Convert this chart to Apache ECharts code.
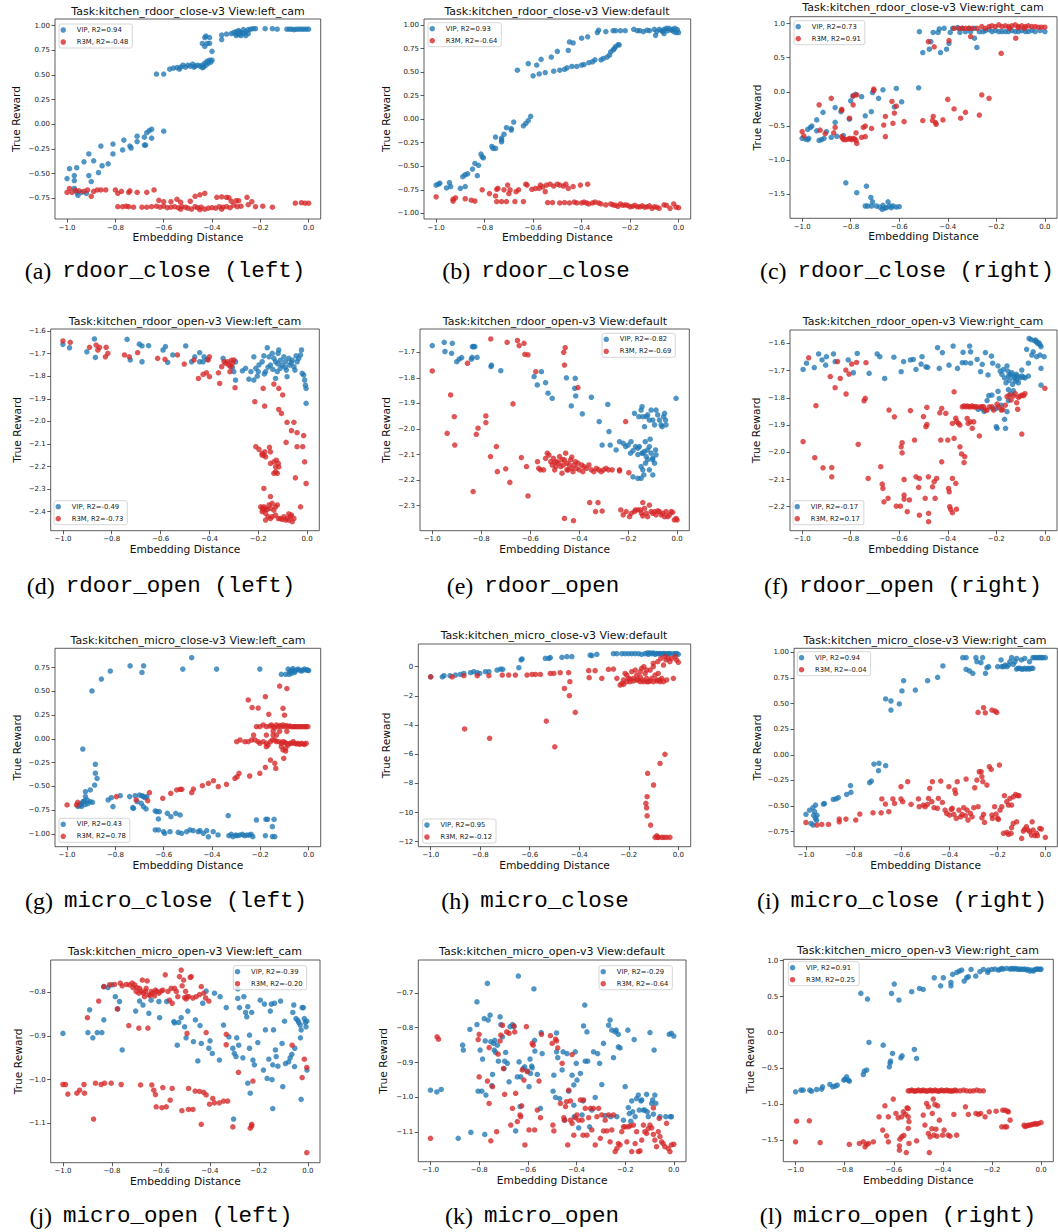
<!DOCTYPE html>
<html><head><meta charset="utf-8">
<script src="https://cdn.jsdelivr.net/npm/echarts@6/dist/echarts.min.js"></script>
<style>html,body{margin:0;padding:0;background:#fff}#c{width:1058px;height:1232px}</style>
</head><body><div id="c"></div>
<script>
// ---------------- DATA ----------------
const titles = [
 "Task:kitchen_rdoor_close-v3 View:left_cam","Task:kitchen_rdoor_close-v3 View:default","Task:kitchen_rdoor_close-v3 View:right_cam",
 "Task:kitchen_rdoor_open-v3 View:left_cam","Task:kitchen_rdoor_open-v3 View:default","Task:kitchen_rdoor_open-v3 View:right_cam",
 "Task:kitchen_micro_close-v3 View:left_cam","Task:kitchen_micro_close-v3 View:default","Task:kitchen_micro_close-v3 View:right_cam",
 "Task:kitchen_micro_open-v3 View:left_cam","Task:kitchen_micro_open-v3 View:default","Task:kitchen_micro_open-v3 View:right_cam"];
const vipLabels = ["VIP, R2=0.94","VIP, R2=0.93","VIP, R2=0.73","VIP, R2=-0.49","VIP, R2=-0.82","VIP, R2=-0.17","VIP, R2=0.43","VIP, R2=0.95","VIP, R2=0.94","VIP, R2=-0.39","VIP, R2=-0.29","VIP, R2=0.91"];
const r3mLabels = ["R3M, R2=-0.48","R3M, R2=-0.64","R3M, R2=0.91","R3M, R2=-0.73","R3M, R2=-0.69","R3M, R2=0.17","R3M, R2=0.78","R3M, R2=-0.12","R3M, R2=-0.04","R3M, R2=-0.20","R3M, R2=-0.64","R3M, R2=0.25"];
const captionTags = ["(a)","(b)","(c)","(d)","(e)","(f)","(g)","(h)","(i)","(j)","(k)","(l)"];
const captionNames = ["rdoor_close (left)","rdoor_close","rdoor_close (right)","rdoor_open (left)","rdoor_open","rdoor_open (right)","micro_close (left)","micro_close","micro_close (right)","micro_open (left)","micro_open","micro_open (right)"];
const xAxisTitle = "Embedding Distance";
const yAxisTitle = "True Reward";
const xTicks = [-1.0,-0.8,-0.6,-0.4,-0.2,0.0];
const yTicks = [
 [-0.75,-0.5,-0.25,0,0.25,0.5,0.75,1.0],
 [-1.0,-0.75,-0.5,-0.25,0,0.25,0.5,0.75,1.0],
 [-1.5,-1.0,-0.5,0,0.5,1.0],
 [-2.4,-2.3,-2.2,-2.1,-2.0,-1.9,-1.8,-1.7,-1.6],
 [-2.3,-2.2,-2.1,-2.0,-1.9,-1.8,-1.7],
 [-2.2,-2.1,-2.0,-1.9,-1.8,-1.7,-1.6],
 [-1.0,-0.75,-0.5,-0.25,0,0.25,0.5,0.75],
 [-12,-10,-8,-6,-4,-2,0],
 [-0.75,-0.5,-0.25,0,0.25,0.5,0.75,1.0],
 [-1.1,-1.0,-0.9,-0.8],
 [-1.1,-1.0,-0.9,-0.8,-0.7],
 [-1.5,-1.0,-0.5,0,0.5,1.0]];

const a_vip = [[-1.0,-0.55],[-0.99,-0.45],[-0.97,-0.52],[-0.97,-0.57],[-0.96,-0.44],[-0.97,-0.65],[-0.96,-0.69],[-0.955,-0.72],[-0.94,-0.69],[-0.92,-0.70],[-0.93,-0.38],[-0.91,-0.30],[-0.91,-0.52],[-0.90,-0.58],[-0.89,-0.37],[-0.87,-0.49],[-0.86,-0.22],[-0.855,-0.42],[-0.83,-0.40],[-0.81,-0.20],[-0.81,-0.30],[-0.765,-0.16],[-0.77,-0.26],[-0.74,-0.22],[-0.735,-0.24],[-0.71,-0.175],[-0.71,-0.12],[-0.68,-0.21],[-0.68,-0.13],[-0.675,-0.21],[-0.67,-0.085],[-0.66,-0.065],[-0.65,-0.14],[-0.65,-0.05],[-0.60,-0.07],
[-0.63,0.51],[-0.60,0.51],[-0.575,0.56],[-0.56,0.57],[-0.545,0.575],[-0.535,0.56],[-0.53,0.58],[-0.52,0.60],[-0.51,0.58],[-0.50,0.60],[-0.49,0.59],[-0.48,0.61],[-0.475,0.58],[-0.47,0.59],[-0.46,0.60],[-0.45,0.59],[-0.44,0.60],[-0.43,0.62],[-0.425,0.60],[-0.42,0.64],[-0.415,0.62],[-0.41,0.65],[-0.40,0.65],[-0.405,0.63],[-0.435,0.58],[-0.44,0.575],
[-0.44,0.82],[-0.43,0.88],[-0.425,0.895],[-0.42,0.82],[-0.41,0.82],[-0.41,0.88],[-0.40,0.74],[-0.43,0.79],
[-0.36,0.86],[-0.36,0.905],[-0.34,0.915],[-0.32,0.92],[-0.31,0.93],[-0.30,0.94],[-0.29,0.95],[-0.28,0.93],[-0.27,0.96],[-0.26,0.94],[-0.25,0.96],[-0.24,0.965],[-0.23,0.97],[-0.22,0.97],[-0.30,0.90],[-0.29,0.91],[-0.28,0.90],[-0.27,0.92],[-0.26,0.90],[-0.25,0.92],[-0.30,0.92],[-0.285,0.935],
[-0.18,0.97],[-0.15,0.97],[-0.13,0.965],[-0.09,0.965],[-0.08,0.965],[-0.07,0.965],[-0.05,0.965],[-0.04,0.965],[-0.03,0.965],[-0.02,0.965],[-0.01,0.965],[0.0,0.965],[-0.06,0.96]];
const a_r3m = [[-1.0,-0.69],[-0.99,-0.65],[-0.98,-0.69],[-0.965,-0.67],[-0.95,-0.675],[-0.93,-0.68],[-0.915,-0.665],[-0.90,-0.73],[-0.89,-0.68],[-0.875,-0.665],[-0.86,-0.665],[-0.84,-0.665],[-0.80,-0.665],[-0.79,-0.70],[-0.775,-0.68],[-0.745,-0.69],[-0.74,-0.675],[-0.71,-0.69],[-0.67,-0.69],[-0.64,-0.665],
[-0.79,-0.835],[-0.77,-0.835],[-0.755,-0.83],[-0.745,-0.835],[-0.725,-0.84],[-0.69,-0.84],[-0.67,-0.84],[-0.65,-0.835],[-0.63,-0.83],[-0.615,-0.84],[-0.60,-0.83],[-0.585,-0.845],[-0.57,-0.84],[-0.555,-0.835],[-0.54,-0.845],[-0.525,-0.835],[-0.51,-0.84],[-0.50,-0.85],[-0.485,-0.86],[-0.47,-0.835],[-0.46,-0.845],[-0.445,-0.84],[-0.43,-0.86],[-0.415,-0.85],[-0.40,-0.845],[-0.385,-0.85],[-0.37,-0.835],[-0.355,-0.84],[-0.34,-0.835],[-0.325,-0.845],[-0.31,-0.82],[-0.295,-0.835],[-0.28,-0.83],[-0.25,-0.815],[-0.22,-0.835],[-0.19,-0.83],[-0.15,-0.84],[-0.53,-0.86],[-0.45,-0.865],[-0.36,-0.86],
[-0.57,-0.785],[-0.545,-0.76],[-0.53,-0.79],[-0.62,-0.77],[-0.60,-0.785],[-0.47,-0.73],[-0.45,-0.715],[-0.43,-0.70],[-0.38,-0.74],[-0.36,-0.735],[-0.34,-0.74],[-0.33,-0.745],[-0.32,-0.78],[-0.30,-0.775],[-0.29,-0.775],[-0.255,-0.74],[-0.235,-0.785],[-0.49,-0.78],
[-0.055,-0.80],[-0.03,-0.795],[-0.015,-0.80],[0.0,-0.80]];

const b_vip = [[-1.0,-0.70],[-0.99,-0.69],[-0.985,-0.68],[-0.957,-0.73],[-0.945,-0.675],[-0.94,-0.715],[-0.90,-0.735],[-0.88,-0.715],
[-0.89,-0.61],[-0.88,-0.59],[-0.87,-0.58],[-0.85,-0.53],[-0.84,-0.47],[-0.83,-0.60],[-0.825,-0.49],[-0.815,-0.37],[-0.81,-0.40],[-0.805,-0.41],[-0.77,-0.29],[-0.765,-0.31],[-0.755,-0.31],[-0.755,-0.19],[-0.73,-0.24],[-0.73,-0.20],[-0.73,-0.22],[-0.72,-0.16],[-0.71,-0.09],[-0.69,-0.115],[-0.69,-0.10],[-0.68,-0.03],[-0.64,-0.07],[-0.63,-0.045],[-0.62,-0.015],[-0.61,0.03],
[-0.665,0.52],[-0.62,0.59],[-0.60,0.46],[-0.585,0.575],[-0.575,0.48],[-0.567,0.635],[-0.55,0.495],[-0.525,0.66],[-0.515,0.51],[-0.50,0.72],[-0.49,0.52],[-0.47,0.53],[-0.455,0.73],[-0.45,0.82],[-0.46,0.545],[-0.44,0.56],[-0.435,0.81],[-0.42,0.56],[-0.40,0.575],[-0.40,0.86],[-0.39,0.58],[-0.375,0.875],[-0.37,0.60],[-0.355,0.61],[-0.345,0.63],[-0.335,0.92],[-0.33,0.945],[-0.32,0.63],[-0.31,0.645],[-0.30,0.93],[-0.295,0.66],[-0.285,0.68],[-0.28,0.715],[-0.27,0.735],[-0.27,0.94],[-0.265,0.75],[-0.26,0.77],[-0.25,0.79],[-0.245,0.79],[-0.26,0.94],[-0.24,0.94],[-0.22,0.94],[-0.185,0.955],[-0.17,0.94],[-0.16,0.94],[-0.145,0.93],[-0.13,0.945],[-0.12,0.94],[-0.10,0.955],[-0.095,0.89],[-0.09,0.93],[-0.08,0.955],[-0.07,0.94],[-0.065,0.93],[-0.06,0.955],[-0.06,0.91],[-0.05,0.965],[-0.045,0.94],[-0.04,0.965],[-0.03,0.945],[-0.025,0.955],[-0.02,0.93],[-0.015,0.965],[-0.01,0.92],[-0.005,0.95],[0.0,0.92]];
const b_r3m = [[-1.0,-0.825],[-0.93,-0.85],[-0.93,-0.87],[-0.92,-0.835],[-0.88,-0.845],[-0.855,-0.86],[-0.84,-0.87],[-0.81,-0.75],[-0.78,-0.79],[-0.755,-0.815],[-0.75,-0.745],[-0.745,-0.735],[-0.75,-0.875],[-0.73,-0.875],[-0.72,-0.75],[-0.71,-0.875],[-0.705,-0.70],[-0.70,-0.79],[-0.695,-0.75],[-0.675,-0.875],[-0.67,-0.77],[-0.66,-0.75],[-0.64,-0.875],[-0.63,-0.69],[-0.625,-0.70],[-0.605,-0.745],[-0.59,-0.735],[-0.575,-0.735],[-0.57,-0.70],[-0.56,-0.72],[-0.55,-0.77],[-0.545,-0.70],[-0.53,-0.69],[-0.515,-0.71],[-0.50,-0.69],[-0.49,-0.70],[-0.475,-0.71],[-0.465,-0.69],[-0.455,-0.735],[-0.435,-0.715],[-0.405,-0.70],[-0.375,-0.69],
[-0.54,-0.885],[-0.52,-0.885],[-0.49,-0.89],[-0.47,-0.885],[-0.45,-0.89],[-0.43,-0.88],[-0.42,-0.89],[-0.40,-0.89],[-0.39,-0.88],[-0.38,-0.89],[-0.37,-0.90],[-0.355,-0.89],[-0.345,-0.88],[-0.33,-0.89],[-0.32,-0.90],[-0.30,-0.91],[-0.28,-0.90],[-0.27,-0.91],[-0.26,-0.915],[-0.24,-0.90],[-0.23,-0.915],[-0.22,-0.91],[-0.21,-0.915],[-0.20,-0.93],[-0.18,-0.915],[-0.17,-0.93],[-0.16,-0.93],[-0.14,-0.935],[-0.13,-0.93],[-0.11,-0.947],[-0.10,-0.93],[-0.09,-0.935],[-0.08,-0.947],[-0.06,-0.91],[-0.05,-0.915],[-0.035,-0.947],[-0.02,-0.90],[-0.01,-0.935],[0.0,-0.94],[-0.25,-0.925],[-0.15,-0.92],[-0.12,-0.92],[-0.19,-0.925]];

const c_vip = [[-1.0,-0.68],[-0.986,-0.69],[-0.977,-0.70],[-0.973,-0.68],[-0.977,-0.55],[-0.966,-0.52],[-0.96,-0.50],[-0.94,-0.41],[-0.94,-0.57],[-0.93,-0.71],[-0.92,-0.70],[-0.91,-0.68],[-0.914,-0.30],[-0.90,-0.58],[-0.88,-0.665],[-0.864,-0.23],[-0.864,-0.445],[-0.857,-0.65],[-0.84,-0.29],[-0.83,-0.64],[-0.805,-0.40],[-0.80,-0.13],[-0.79,-0.06],[-0.78,-0.035],[-0.755,-0.07],[-0.74,-0.35],[-0.715,-0.29],[-0.71,-0.01],[-0.685,-0.095],[-0.667,0.03],[-0.62,-0.22],[-0.612,0.05],[-0.59,-0.145],[-0.52,0.06],
[-0.82,-1.33],[-0.775,-1.475],[-0.735,-1.38],[-0.74,-1.67],[-0.73,-1.67],[-0.717,-1.545],[-0.71,-1.61],[-0.714,-1.67],[-0.694,-1.67],[-0.68,-1.685],[-0.667,-1.66],[-0.653,-1.695],[-0.646,-1.61],[-0.64,-1.67],[-0.633,-1.695],[-0.626,-1.67],[-0.612,-1.685],[-0.60,-1.68],[-0.66,-1.70],[-0.67,-1.72],
[-0.517,0.88],[-0.503,0.575],[-0.476,0.625],[-0.47,0.735],[-0.46,0.87],[-0.44,0.87],[-0.435,0.92],[-0.43,0.575],[-0.415,0.93],[-0.405,0.625],[-0.395,0.71],[-0.39,0.87],[-0.38,0.93],[-0.36,0.94],[-0.35,0.87],[-0.34,0.93],[-0.327,0.88],[-0.313,0.93],[-0.306,0.88],[-0.29,0.93],[-0.29,0.785],[-0.28,0.65],[-0.27,0.88],[-0.255,0.88],[-0.245,0.897],[-0.23,0.91],[-0.218,0.883],[-0.204,0.897],[-0.19,0.883],[-0.177,0.883],[-0.163,0.883],[-0.15,0.883],[-0.136,0.897],[-0.122,0.883],[-0.109,0.883],[-0.095,0.897],[-0.08,0.883],[-0.068,0.883],[-0.054,0.90],[-0.04,0.883],[-0.02,0.897],[0.0,0.883]];
const c_r3m = [[-1.0,-0.58],[-0.993,-0.645],[-0.93,-0.19],[-0.926,-0.56],[-0.905,-0.61],[-0.88,-0.095],[-0.864,-0.52],[-0.87,-0.60],[-0.837,-0.255],[-0.837,-0.27],[-0.837,-0.655],[-0.833,-0.68],[-0.828,-0.70],[-0.82,-0.70],[-0.81,-0.69],[-0.803,-0.68],[-0.797,-0.70],[-0.79,-0.68],[-0.784,-0.69],[-0.778,-0.71],[-0.805,-0.385],[-0.79,-0.19],[-0.79,-0.06],[-0.775,-0.045],[-0.778,-0.60],[-0.775,-0.755],[-0.755,-0.665],[-0.748,-0.52],[-0.74,-0.50],[-0.74,-0.655],[-0.714,-0.535],[-0.705,0.04],[-0.705,0.02],[-0.664,-0.485],[-0.657,-0.655],[-0.657,-0.36],[-0.63,-0.14],[-0.626,-0.46],[-0.62,-0.31],[-0.612,-0.21],[-0.58,-0.435],[-0.503,-0.42],[-0.463,-0.42],[-0.46,-0.36],[-0.45,-0.45],[-0.448,-0.475],[-0.42,-0.41],[-0.40,-0.11],[-0.374,-0.25],[-0.347,-0.385],[-0.327,-0.30],[-0.27,-0.34],[-0.26,-0.045],[-0.23,-0.095],
[-0.48,0.735],[-0.456,0.66],[-0.395,0.75],[-0.374,0.93],[-0.354,0.93],[-0.34,0.93],[-0.327,0.93],[-0.313,0.93],[-0.30,0.93],[-0.279,0.93],[-0.26,0.956],[-0.245,0.93],[-0.23,0.956],[-0.218,0.966],[-0.204,0.956],[-0.19,0.98],[-0.177,0.956],[-0.163,0.966],[-0.15,0.956],[-0.136,0.966],[-0.122,0.98],[-0.109,0.956],[-0.095,0.966],[-0.08,0.956],[-0.068,0.966],[-0.054,0.956],[-0.04,0.956],[-0.027,0.946],[-0.014,0.946],[0.0,0.946],[-0.306,0.81],[-0.18,0.565],[-0.12,0.785],[-0.11,0.94],[-0.145,0.93],[-0.085,0.93]];

const d_vip = [[-1.0,-1.659],[-0.973,-1.674],[-0.902,-1.692],[-0.867,-1.717],[-0.871,-1.635],[-0.737,-1.637],[-0.724,-1.728],[-0.687,-1.658],[-0.676,-1.666],[-0.676,-1.736],[-0.649,-1.665],[-0.59,-1.684],[-0.58,-1.669],[-0.571,-1.739],[-0.55,-1.706],[-0.497,-1.666],[-0.473,-1.736],[-0.46,-1.714],[-0.44,-1.736],[-0.44,-1.696],[-0.426,-1.736],[-0.422,-1.714],[-0.41,-1.726],[-0.344,-1.721],[-0.306,-1.761],[-0.30,-1.78],[-0.293,-1.817],[-0.293,-1.736],[-0.265,-1.776],[-0.252,-1.765],[-0.238,-1.813],[-0.23,-1.78],[-0.218,-1.817],[-0.218,-1.714],[-0.21,-1.765],[-0.204,-1.80],[-0.197,-1.75],[-0.184,-1.736],[-0.177,-1.71],[-0.163,-1.674],[-0.17,-1.78],[-0.156,-1.714],[-0.15,-1.751],[-0.143,-1.699],[-0.136,-1.721],[-0.129,-1.736],[-0.129,-1.81],[-0.122,-1.78],[-0.119,-1.699],[-0.116,-1.684],[-0.109,-1.729],[-0.102,-1.751],[-0.095,-1.714],[-0.088,-1.736],[-0.085,-1.773],[-0.082,-1.802],[-0.075,-1.721],[-0.071,-1.751],[-0.061,-1.729],[-0.054,-1.758],[-0.05,-1.773],[-0.041,-1.736],[-0.034,-1.721],[-0.027,-1.706],[-0.023,-1.684],[-0.02,-1.787],[-0.014,-1.795],[-0.01,-1.817],[-0.007,-1.84],[-0.004,-1.854],[-0.004,-1.92],[-0.16,-1.76],[-0.14,-1.77],[-0.11,-1.765],[-0.09,-1.76],[-0.065,-1.74],[-0.045,-1.71],[-0.12,-1.745],[-0.175,-1.79],[-0.2,-1.78]];
const d_r3m = [[-1.0,-1.644],[-0.97,-1.65],[-0.891,-1.672],[-0.864,-1.662],[-0.857,-1.684],[-0.85,-1.672],[-0.823,-1.672],[-0.826,-1.714],[-0.816,-1.699],[-0.748,-1.706],[-0.728,-1.714],[-0.694,-1.696],[-0.612,-1.721],[-0.582,-1.725],[-0.531,-1.706],[-0.503,-1.746],[-0.463,-1.728],[-0.445,-1.81],[-0.426,-1.792],[-0.412,-1.785],[-0.40,-1.714],[-0.40,-1.802],[-0.405,-1.728],[-0.363,-1.785],[-0.358,-1.832],[-0.35,-1.758],[-0.34,-1.736],[-0.333,-1.743],[-0.326,-1.736],[-0.32,-1.751],[-0.316,-1.78],[-0.313,-1.758],[-0.306,-1.743],[-0.30,-1.728],[-0.295,-1.851],[-0.31,-1.73],
[-0.18,-1.854],[-0.214,-1.913],[-0.174,-1.932],[-0.136,-1.835],[-0.116,-1.854],[-0.116,-1.947],[-0.105,-1.965],[-0.10,-1.883],[-0.082,-2.004],[-0.054,-2.004],[-0.064,-2.041],[-0.041,-2.05],[-0.014,-2.063],[-0.086,-2.093],[-0.041,-2.112],[-0.018,-2.112],[-0.01,-2.179],[-0.048,-2.25],[-0.004,-2.275],[-0.027,-2.378],
[-0.21,-2.112],[-0.197,-2.124],[-0.184,-2.142],[-0.177,-2.149],[-0.17,-2.157],[-0.173,-2.135],[-0.154,-2.115],[-0.15,-2.135],[-0.15,-2.186],[-0.136,-2.179],[-0.129,-2.201],[-0.126,-2.172],[-0.118,-2.186],[-0.116,-2.201],[-0.122,-2.23],[-0.136,-2.23],[-0.129,-2.223],[-0.184,-2.149],
[-0.177,-2.297],[-0.15,-2.333],[-0.19,-2.378],[-0.184,-2.385],[-0.177,-2.378],[-0.17,-2.385],[-0.163,-2.39],[-0.156,-2.37],[-0.15,-2.385],[-0.143,-2.363],[-0.136,-2.393],[-0.129,-2.378],[-0.122,-2.37],[-0.17,-2.407],[-0.16,-2.422],[-0.17,-2.437],[-0.15,-2.43],[-0.143,-2.422],[-0.129,-2.415],[-0.118,-2.43],[-0.109,-2.43],[-0.102,-2.434],[-0.095,-2.422],[-0.088,-2.437],[-0.082,-2.43],[-0.075,-2.437],[-0.068,-2.42],[-0.064,-2.415],[-0.061,-2.444],[-0.075,-2.41],[-0.054,-2.43],[-0.177,-2.393],[-0.184,-2.4]];

const e_vip = [[-1.0,-1.674],[-0.951,-1.661],[-0.948,-1.697],[-0.918,-1.665],[-0.921,-1.704],[-0.90,-1.737],[-0.89,-1.727],[-0.88,-1.721],[-0.836,-1.678],[-0.831,-1.678],[-0.826,-1.678],[-0.84,-1.727],[-0.837,-1.72],[-0.817,-1.72],[-0.758,-1.75],[-0.76,-1.756],[-0.72,-1.772],
[-0.584,-1.795],[-0.571,-1.828],[-0.554,-1.776],[-0.537,-1.819],[-0.527,-1.86],[-0.51,-1.88],[-0.452,-1.80],[-0.432,-1.91],[-0.418,-1.841],[-0.416,-1.802],[-0.414,-1.871],[-0.387,-1.941],[-0.35,-1.876],[-0.318,-1.971],[-0.306,-2.063],[-0.283,-1.904],[-0.278,-2.01],[-0.273,-2.063],[-0.249,-2.082],[-0.235,-2.05],[-0.22,-2.056],[-0.21,-2.069],[-0.2,-2.063],[-0.19,-2.095],[-0.188,-2.05],[-0.18,-2.085],[-0.18,-2.187],[-0.174,-1.939],[-0.17,-2.069],[-0.16,-2.075],[-0.16,-2.193],[-0.156,-1.952],[-0.147,-1.926],[-0.143,-1.913],[-0.14,-1.952],[-0.14,-2.095],
[-0.133,-1.991],[-0.126,-1.952],[-0.12,-1.945],[-0.113,-1.965],[-0.106,-1.926],[-0.099,-1.965],[-0.092,-1.984],[-0.086,-1.926],[-0.079,-1.945],[-0.072,-1.965],[-0.065,-1.984],[-0.061,-1.991],[-0.055,-1.952],[-0.051,-1.939],[-0.047,-1.965],[-0.045,-1.984],
[-0.154,-2.069],[-0.143,-2.095],[-0.133,-2.088],[-0.126,-2.108],[-0.12,-2.082],[-0.113,-2.069],[-0.106,-2.095],[-0.099,-2.114],[-0.092,-2.134],[-0.088,-2.082],[-0.086,-2.101],[-0.129,-2.134],[-0.14,-2.16],[-0.147,-2.147],[-0.113,-2.16],[-0.099,-2.18],[-0.147,-2.193],[-0.136,-2.18],[-0.004,-1.88],[-0.11,-2.04],[-0.13,-2.05],[-0.1,-2.12],[-0.12,-2.12],[-0.16,-2.1]];
const e_r3m = [[-1.0,-1.773],[-0.925,-1.867],[-0.91,-1.952],[-0.939,-2.017],[-0.908,-2.063],[-0.856,-1.743],[-0.781,-1.949],[-0.781,-1.975],[-0.813,-1.997],[-0.82,-2.021],[-0.833,-2.245],[-0.762,-2.108],[-0.738,-2.069],[-0.734,-2.167],[-0.70,-2.156],[-0.683,-2.209],[-0.761,-1.648],[-0.694,-1.661],[-0.67,-1.902],[-0.652,-1.654],[-0.645,-1.674],[-0.625,-1.665],[-0.622,-1.708],[-0.609,-1.71],[-0.636,-2.112],[-0.615,-2.147],[-0.609,-2.262],[-0.577,-1.776],[-0.463,-1.70],[-0.457,-1.682],[-0.46,-1.75],[-0.405,-1.838],[-0.46,-2.35],[-0.423,-2.359],[-0.357,-2.288],[-0.333,-2.323],[-0.323,-2.288],[-0.306,-2.321],[-0.21,-1.971],[-0.235,-2.164],[-0.235,-2.16],[-0.197,-2.171],
[-0.57,-2.128],[-0.565,-2.154],[-0.558,-2.16],[-0.545,-2.16],[-0.537,-2.115],[-0.53,-2.095],[-0.523,-2.102],[-0.516,-2.128],[-0.51,-2.141],[-0.505,-2.115],[-0.50,-2.16],[-0.495,-2.147],[-0.49,-2.128],[-0.485,-2.134],[-0.48,-2.108],[-0.475,-2.147],[-0.47,-2.173],[-0.465,-2.141],[-0.46,-2.121],[-0.455,-2.095],[-0.45,-2.134],[-0.445,-2.16],[-0.44,-2.141],[-0.435,-2.121],[-0.43,-2.154],[-0.425,-2.167],[-0.42,-2.141],[-0.415,-2.128],[-0.41,-2.154],[-0.405,-2.134],[-0.40,-2.16],[-0.39,-2.141],[-0.385,-2.167],[-0.38,-2.147],[-0.37,-2.154],[-0.36,-2.141],[-0.35,-2.16],[-0.34,-2.167],[-0.33,-2.154],[-0.32,-2.16],[-0.31,-2.167],[-0.30,-2.16],[-0.29,-2.154],[-0.28,-2.16],[-0.265,-2.16],[-0.45,-2.16],[-0.43,-2.11],[-0.47,-2.12],[-0.5,-2.13],
[-0.23,-2.317],[-0.22,-2.336],[-0.208,-2.323],[-0.194,-2.343],[-0.187,-2.33],[-0.174,-2.323],[-0.17,-2.317],[-0.15,-2.317],[-0.14,-2.288],[-0.133,-2.311],[-0.126,-2.33],[-0.12,-2.343],[-0.113,-2.298],[-0.106,-2.323],[-0.099,-2.33],[-0.092,-2.323],[-0.086,-2.336],[-0.079,-2.32],[-0.072,-2.323],[-0.065,-2.336],[-0.058,-2.33],[-0.051,-2.343],[-0.045,-2.323],[-0.038,-2.343],[-0.031,-2.336],[-0.024,-2.323],[-0.018,-2.326],[-0.011,-2.356],[-0.004,-2.35],[0.0,-2.356],[-0.16,-2.317],[-0.145,-2.33],[-0.14,-2.34]];

const f_vip = [[-0.996,-1.696],[-0.982,-1.673],[-0.95,-1.689],[-0.932,-1.639],[-0.918,-1.661],[-0.90,-1.649],[-0.903,-1.68],[-0.871,-1.639],[-0.864,-1.667],[-0.81,-1.661],[-0.789,-1.708],[-0.773,-1.637],[-0.724,-1.71],[-0.691,-1.639],[-0.68,-1.649],[-0.66,-1.729],[-0.622,-1.651],[-0.592,-1.704],[-0.582,-1.667],[-0.554,-1.661],[-0.542,-1.659],[-0.531,-1.696],[-0.51,-1.676],[-0.506,-1.649],[-0.49,-1.686],[-0.483,-1.688],[-0.442,-1.616],[-0.435,-1.692],[-0.422,-1.634],[-0.395,-1.68],[-0.378,-1.61],[-0.36,-1.692],[-0.34,-1.671],[-0.337,-1.633],[-0.327,-1.671],[-0.31,-1.61],[-0.306,-1.673],[-0.306,-1.631],[-0.279,-1.659],[-0.265,-1.704],[-0.258,-1.677],[-0.245,-1.634],[-0.234,-1.716],[-0.22,-1.647],[-0.215,-1.673],
[-0.193,-1.683],[-0.184,-1.702],[-0.177,-1.714],[-0.17,-1.696],[-0.166,-1.727],[-0.16,-1.745],[-0.156,-1.683],[-0.152,-1.702],[-0.15,-1.72],[-0.147,-1.736],[-0.143,-1.714],[-0.136,-1.708],[-0.133,-1.751],[-0.129,-1.726],[-0.125,-1.72],[-0.122,-1.739],[-0.118,-1.714],[-0.116,-1.733],[-0.112,-1.72],[-0.109,-1.745],[-0.102,-1.727],[-0.095,-1.72],[-0.088,-1.724],[-0.082,-1.727],[-0.068,-1.72],
[-0.065,-1.582],[-0.057,-1.586],[-0.044,-1.59],[-0.038,-1.588],[-0.034,-1.594],[-0.03,-1.6],[-0.024,-1.598],[-0.02,-1.606],[-0.016,-1.612],[-0.048,-1.631],[-0.054,-1.643],[-0.034,-1.649],[-0.02,-1.643],[-0.003,-1.649],[-0.075,-1.622],[-0.068,-1.673],[-0.016,-1.692],[-0.016,-1.753],[-0.095,-1.698],
[-0.275,-1.842],[-0.238,-1.81],[-0.231,-1.792],[-0.218,-1.79],[-0.215,-1.839],[-0.20,-1.839],[-0.193,-1.776],[-0.188,-1.803],[-0.18,-1.827],[-0.20,-1.906],[-0.197,-1.912],[-0.162,-1.912],[-0.166,-1.879],[-0.156,-1.851],[-0.15,-1.81],[-0.14,-1.786],[-0.13,-1.774],[-0.15,-1.77],[-0.26,-1.84],[-0.25,-1.85]];
const f_r3m = [[-0.996,-1.961],[-0.973,-1.653],[-0.948,-2.02],[-0.943,-1.829],[-0.914,-2.057],[-0.884,-1.722],[-0.878,-2.056],[-0.878,-2.09],[-0.864,-1.763],[-0.854,-1.667],[-0.843,-1.729],[-0.82,-1.698],[-0.819,-1.786],[-0.807,-1.713],[-0.796,-1.676],[-0.776,-1.67],[-0.769,-1.971],[-0.745,-1.811],[-0.74,-1.802],[-0.737,-1.671],[-0.728,-2.096],[-0.676,-2.053],[-0.67,-2.117],[-0.667,-2.133],[-0.663,-2.182],[-0.646,-2.169],[-0.642,-1.845],[-0.62,-1.87],[-0.612,-2.198],[-0.595,-2.198],[-0.592,-1.98],[-0.588,-2.002],[-0.588,-1.965],[-0.58,-2.10],[-0.58,-2.157],[-0.58,-2.172],[-0.567,-2.218],[-0.558,-2.175],[-0.554,-1.847],[-0.537,-1.955],[-0.531,-2.09],[-0.52,-2.129],[-0.517,-2.231],[-0.517,-2.096],[-0.50,-1.869],[-0.493,-2.169],[-0.49,-1.906],[-0.486,-1.835],[-0.486,-1.898],[-0.48,-2.09],[-0.479,-2.224],[-0.479,-2.255],[-0.463,-2.127],[-0.456,-2.108],[-0.452,-2.169],[-0.446,-2.096],[-0.433,-1.855],[-0.429,-1.955],[-0.425,-1.839],[-0.425,-2.035],[-0.408,-1.857],[-0.40,-1.955],[-0.397,-2.133],[-0.394,-2.145],[-0.392,-2.20],[-0.388,-2.21],[-0.381,-2.222],[-0.381,-2.096],[-0.374,-1.778],[-0.367,-2.114],[-0.364,-2.209],
[-0.381,-1.894],[-0.374,-1.949],[-0.367,-1.875],[-0.364,-1.887],[-0.356,-1.894],[-0.35,-1.9],[-0.34,-1.833],[-0.333,-1.83],[-0.327,-1.833],[-0.32,-1.83],[-0.313,-1.833],[-0.306,-1.833],[-0.30,-1.83],[-0.293,-1.833],[-0.286,-1.833],[-0.279,-1.833],[-0.32,-1.876],[-0.316,-1.894],[-0.306,-1.888],[-0.299,-1.912],[-0.293,-1.888],[-0.27,-1.94],[-0.265,-1.833],[-0.258,-1.833],[-0.252,-1.833],[-0.245,-1.845],[-0.238,-1.845],[-0.228,-1.833],[-0.218,-1.833],[-0.211,-1.845],[-0.197,-1.823],[-0.19,-1.833],[-0.179,-1.845],[-0.174,-1.843],[-0.163,-1.827],[-0.156,-1.796],[-0.147,-1.79],[-0.139,-1.808],[-0.129,-1.793],[-0.122,-1.785],[-0.116,-1.818],[-0.112,-1.842],[-0.109,-1.798],[-0.102,-1.794],[-0.095,-1.79],[-0.088,-1.792],[-0.082,-1.785],[-0.095,-1.933],[0.0,-1.765],[-0.35,-1.98],[-0.343,-2.006],[-0.33,-2.016],[-0.333,-2.038]];

const g_vip = [[-0.897,0.505],[-0.858,0.63],[-0.821,0.715],[-0.739,0.77],[-0.69,0.70],[-0.683,0.77],[-0.521,0.735],[-0.484,0.855],[-0.381,0.735],[-0.202,0.735],[-0.113,0.68],[-0.095,0.68],[-0.085,0.736],[-0.078,0.708],[-0.071,0.725],[-0.065,0.74],[-0.058,0.715],[-0.051,0.725],[-0.044,0.736],[-0.037,0.725],[-0.03,0.715],[-0.024,0.725],[-0.017,0.736],[-0.01,0.725],[-0.003,0.725],[0.0,0.72],[-0.081,0.68],[-0.071,0.69],[-0.058,0.70],
[-0.935,-0.106],[-0.883,-0.267],[-0.883,-0.36],[-0.876,-0.415],[-0.886,-0.485],[-0.904,-0.537],[-0.924,-0.555],[-0.924,-0.607],[-0.917,-0.642],[-0.934,-0.66],[-0.945,-0.695],[-0.942,-0.68],[-0.93,-0.655],[-0.914,-0.68],[-0.905,-0.66],[-0.895,-0.667],[-0.95,-0.70],[-0.94,-0.71],[-0.925,-0.69],[-0.955,-0.71],
[-0.83,-0.642],[-0.817,-0.618],[-0.81,-0.712],[-0.78,-0.597],[-0.741,-0.607],[-0.728,-0.723],[-0.725,-0.73],[-0.718,-0.597],[-0.71,-0.66],[-0.70,-0.59],[-0.69,-0.597],[-0.684,-0.607],[-0.677,-0.618],[-0.67,-0.607],[-0.693,-0.677],[-0.684,-0.712],[-0.673,-0.737],[-0.635,-0.758],[-0.628,-0.765],[-0.618,-0.765],[-0.622,-0.842],[-0.585,-0.783],[-0.57,-0.818],[-0.55,-0.783],[-0.532,-0.80],[-0.333,-0.807],[-0.216,-0.853],[-0.177,-0.846],[-0.17,-0.846],[-0.143,-0.846],[-0.15,-0.923],
[-0.635,-0.958],[-0.622,-0.958],[-0.601,-0.976],[-0.596,-0.993],[-0.574,-0.976],[-0.54,-0.983],[-0.526,-0.993],[-0.505,-0.976],[-0.491,-0.958],[-0.478,-0.965],[-0.457,-0.976],[-0.45,-0.965],[-0.436,-0.993],[-0.422,-0.965],[-0.415,-1.03],[-0.395,-0.976],[-0.375,-1.01],[-0.33,-1.018],[-0.32,-1.004],[-0.313,-1.028],[-0.301,-1.011],[-0.296,-1.018],[-0.285,-1.011],[-0.274,-1.004],[-0.265,-1.018],[-0.255,-1.011],[-0.245,-1.011],[-0.238,-1.004],[-0.231,-1.028],[-0.179,-1.018],[-0.15,-1.028],[-0.14,-1.028]];
const g_r3m = [[-1.0,-0.695],[-0.961,-0.695],[-0.956,-0.667],[-0.796,-0.607],[-0.714,-0.642],[-0.666,-0.65],[-0.659,-0.565],[-0.604,-0.625],[-0.571,-0.572],[-0.546,-0.537],[-0.532,-0.53],[-0.525,-0.53],[-0.484,-0.565],[-0.477,-0.527],[-0.44,-0.492],[-0.415,-0.467],[-0.394,-0.439],[-0.374,-0.502],[-0.34,-0.477],[-0.305,-0.415],[-0.296,-0.397],[-0.288,-0.362],[-0.244,-0.39],[-0.202,-0.362],[-0.179,-0.299],[-0.158,-0.222],[-0.14,-0.257],[-0.136,-0.31],[-0.25,0.41],[-0.234,0.33],[-0.209,0.325],[-0.179,0.445],[-0.165,0.259],[-0.12,0.557],[-0.09,0.53],[-0.106,0.322],[-0.10,0.25],[-0.103,-0.204],[-0.095,-0.099],
[-0.216,0.129],[-0.202,0.129],[-0.188,0.147],[-0.175,0.129],[-0.161,0.136],[-0.154,0.147],[-0.147,0.129],[-0.14,0.119],[-0.133,0.147],[-0.126,0.129],[-0.119,0.14],[-0.113,0.129],[-0.106,0.147],[-0.099,0.129],[-0.092,0.14],[-0.085,0.129],[-0.078,0.136],[-0.071,0.129],[-0.064,0.129],[-0.058,0.129],[-0.051,0.129],[-0.044,0.129],[-0.037,0.129],[-0.03,0.129],[-0.023,0.129],[-0.016,0.129],[-0.01,0.129],[-0.003,0.129],[-0.147,0.084],[-0.12,0.08],[-0.09,0.08],
[-0.298,-0.029],[-0.284,-0.011],[-0.264,-0.029],[-0.25,-0.029],[-0.236,-0.011],[-0.222,-0.011],[-0.209,-0.029],[-0.202,-0.046],[-0.188,-0.029],[-0.175,-0.046],[-0.168,-0.064],[-0.158,-0.029],[-0.15,-0.011],[-0.14,-0.011],[-0.133,-0.029],[-0.122,-0.029],[-0.113,-0.046],[-0.106,-0.029],[-0.099,-0.036],[-0.092,-0.046],[-0.085,-0.064],[-0.078,-0.046],[-0.071,-0.046],[-0.064,-0.029],[-0.058,-0.046],[-0.051,-0.053],[-0.044,-0.046],[-0.037,-0.057],[-0.03,-0.046],[-0.023,-0.053],[-0.017,-0.057],[-0.01,-0.046],[-0.228,0.041],[-0.175,0.041],[-0.147,0.041],[-0.133,0.041],[-0.113,-0.081],[-0.106,-0.116],[-0.095,-0.127],[-0.175,-0.081]];

const h_vip = [[-1.0,-0.69],[-0.953,-0.69],[-0.946,-0.62],[-0.922,-0.62],[-0.90,-0.57],[-0.88,-0.53],[-0.866,-0.46],[-0.839,-0.41],[-0.826,-0.34],[-0.812,-0.41],[-0.802,-0.46],[-0.779,-0.34],[-0.765,-0.34],[-0.732,-0.23],[-0.718,-0.16],[-0.709,-0.18],[-0.644,-0.07],[-0.635,0.46],[-0.631,0.53],[-0.537,0.57],[-0.523,0.57],[-0.517,0.62],[-0.47,0.64],[-0.45,0.69],[-0.43,0.69],[-0.356,0.80],[-0.349,0.76],[-0.329,0.85],[-0.262,0.89],[-0.248,0.89],[-0.228,0.89],[-0.215,0.89],[-0.201,0.89],[-0.188,0.89],[-0.175,0.89],[-0.161,0.89],[-0.148,0.85],[-0.134,0.89],[-0.125,0.94],[-0.121,0.85],[-0.114,0.94],[-0.107,0.89],[-0.101,0.94],[-0.094,0.85],[-0.087,0.91],[-0.081,0.89],[-0.074,0.91],[-0.067,0.87],[-0.06,0.91],[-0.054,0.89],[-0.047,0.87],[-0.04,0.89],[-0.034,0.91],[-0.02,0.89],[-0.013,0.87],[-0.007,0.91],[0.0,0.85]];
const h_r3m = [[-1.0,-0.69],[-0.913,-0.69],[-0.866,-0.62],[-0.812,-0.62],[-0.765,-0.62],[-0.711,-0.57],[-0.685,-0.57],[-0.658,-0.57],[-0.611,-0.57],[-0.591,-0.53],[-0.577,-0.53],[-0.557,-0.53],[-0.517,-0.46],[-0.503,-0.46],[-0.477,-0.41],[-0.443,-0.41],[-0.362,-0.27],[-0.336,-0.27],[-0.36,-0.75],[-0.309,-0.80],[-0.282,-0.18],[-0.262,-0.16],[-0.248,-0.80],[-0.46,-1.49],[-0.438,-1.03],[-0.44,-1.99],[-0.416,-3.13],[-0.533,-3.73],[-0.499,-5.49],[-0.863,-4.27],[-0.762,-4.91],
[-0.235,-1.26],[-0.221,-0.91],[-0.215,-0.46],[-0.208,-0.57],[-0.201,-0.80],[-0.195,-1.03],[-0.188,-0.34],[-0.181,-0.80],[-0.174,-0.23],[-0.168,-0.57],[-0.161,-0.91],[-0.154,-0.69],[-0.148,-0.11],[-0.144,-0.91],[-0.139,0.0],[-0.134,-0.46],[-0.128,-0.80],[-0.121,-1.03],[-0.114,-0.23],[-0.107,-0.80],[-0.101,0.0],[-0.094,-0.57],[-0.087,-0.91],[-0.083,0.34],[-0.081,-0.46],[-0.074,-1.03],[-0.071,0.57],[-0.067,-0.80],[-0.06,0.11],[-0.054,0.69],[-0.05,0.46],[-0.047,-0.91],[-0.04,0.57],[-0.034,0.34],[-0.027,0.57],[-0.02,-0.80],[-0.013,0.69],[-0.007,0.46],[0.0,0.30],
[-0.208,-1.03],[-0.195,-0.84],[-0.181,-0.98],[-0.168,-0.91],[-0.154,-1.03],[-0.141,-1.03],[-0.128,-1.03],[-0.114,-0.98],[-0.101,-1.03],[-0.087,-0.98],[-0.074,-0.91],[-0.06,-1.03],[-0.228,-1.14],[-0.221,-1.21],[-0.154,-0.34],[-0.128,-0.23],[-0.101,0.23],
[-0.054,-6.01],[-0.074,-6.63],[-0.124,-7.31],[-0.10,-8.11],[-0.126,-8.91],[-0.131,-9.37],[-0.128,-9.67],[-0.126,-10.22],[-0.112,-10.86],[-0.087,-11.59],[-0.083,-11.7],[-0.094,-11.7],[-0.081,-11.7],[-0.067,-11.7],[-0.058,-11.7],[-0.047,-11.7],[-0.034,-11.7]];

const i_vip = [[-1.0,-0.58],[-0.985,-0.54],[-0.979,-0.669],[-0.971,-0.516],[-0.968,-0.59],[-0.964,-0.555],[-0.96,-0.62],[-0.954,-0.59],[-0.956,-0.64],[-0.97,-0.685],[-0.96,-0.49],[-0.927,-0.48],[-0.923,-0.475],[-0.886,-0.435],[-0.875,-0.43],[-0.865,-0.418],[-0.83,-0.386],[-0.812,-0.366],[-0.814,-0.30],[-0.734,-0.272],[-0.727,-0.256],[-0.716,-0.09],[-0.695,-0.083],[-0.697,-0.155],[-0.667,-0.106],[-0.667,0.545],[-0.645,0.525],[-0.645,0.437],[-0.61,0.496],[-0.599,0.623],[-0.592,0.723],[-0.543,0.632],[-0.492,0.723],[-0.45,0.756],[-0.428,0.867],[-0.345,0.948],[-0.331,0.948],[-0.331,0.834],[-0.317,0.818],[-0.303,0.795],[-0.29,0.948],[-0.286,0.909],[-0.269,0.899],[-0.262,0.948],[-0.25,0.795],[-0.244,0.85],[-0.237,0.86],[-0.199,0.86],[-0.185,0.925],[-0.182,0.86],[-0.175,0.86],[-0.168,0.876],[-0.161,0.86],[-0.154,0.876],[-0.148,0.909],[-0.141,0.948],[-0.134,0.883],[-0.127,0.909],[-0.12,0.837],[-0.114,0.844],[-0.107,0.844],[-0.1,0.837],[-0.093,0.837],[-0.086,0.844],[-0.079,0.837],[-0.072,0.844],[-0.066,0.837],[-0.059,0.844],[-0.052,0.844],[-0.12,0.94],[-0.1,0.925],[-0.086,0.94],[-0.066,0.909],[-0.052,0.948],[-0.045,0.948],[-0.038,0.948],[-0.03,0.948],[-0.023,0.948],[-0.016,0.948],[-0.01,0.948],[0.0,0.948]];
const i_r3m = [[-1.0,-0.66],[-0.954,-0.685],[-0.934,-0.679],[-0.906,-0.679],[-0.861,-0.653],[-0.861,-0.627],[-0.833,-0.627],[-0.792,-0.636],[-0.775,-0.578],[-0.72,-0.565],[-0.686,-0.565],[-0.683,-0.43],[-0.668,-0.48],[-0.654,-0.555],[-0.637,-0.43],[-0.63,-0.474],[-0.603,-0.31],[-0.603,-0.43],[-0.596,-0.457],[-0.575,-0.262],[-0.561,-0.483],[-0.53,-0.43],[-0.527,-0.506],[-0.51,-0.49],[-0.502,-0.506],[-0.492,-0.483],[-0.488,-0.425],[-0.483,-0.327],[-0.474,-0.457],[-0.465,-0.516],[-0.451,-0.522],[-0.447,-0.425],[-0.437,-0.256],[-0.43,-0.464],[-0.419,-0.539],[-0.412,-0.571],[-0.403,-0.311],[-0.40,-0.587],[-0.393,-0.532],[-0.389,-0.522],[-0.382,-0.581],[-0.378,-0.343],[-0.375,-0.376],[-0.372,-0.62],[-0.368,-0.262],[-0.361,-0.539],[-0.354,-0.604],[-0.348,-0.581],[-0.341,-0.516],[-0.334,-0.594],[-0.331,-0.236],[-0.327,-0.539],[-0.323,-0.636],[-0.313,-0.571],[-0.306,-0.604],[-0.299,-0.516],[-0.295,-0.321],[-0.286,-0.246],[-0.281,-0.506],[-0.276,-0.165],[-0.268,-0.165],[-0.265,-0.213],[-0.261,-0.262],[-0.265,-0.614],[-0.258,-0.581],[-0.254,-0.659],[-0.244,-0.295],[-0.234,-0.116],[-0.226,-0.142],[-0.223,-0.587],[-0.221,-0.62],[-0.212,-0.506],[-0.206,-0.578],[-0.199,-0.62],[-0.192,-0.10],[-0.182,-0.506],[-0.171,-0.399],[-0.161,-0.457],[-0.154,-0.49],[-0.148,-0.425],[-0.141,-0.49],[-0.134,-0.409],[-0.124,-0.386],[-0.116,-0.399],[-0.11,-0.399],[-0.175,-0.766],[-0.161,-0.757],[-0.154,-0.776],[-0.143,-0.766],[-0.134,-0.669],[-0.141,-0.711],[-0.12,-0.653],[-0.099,-0.815],[-0.092,-0.744],[-0.086,-0.724],[-0.079,-0.701],[-0.072,-0.734],[-0.065,-0.75],[-0.058,-0.783],[-0.055,-0.653],[-0.051,-0.734],[-0.044,-0.789],[-0.037,-0.766],[-0.033,-0.789],[-0.023,-0.718],[-0.017,-0.724],[0.0,-0.805],[-0.196,-0.63],[-0.189,-0.539],[-0.281,0.414],[-0.258,0.46],[-0.251,0.41],[-0.223,0.437],[-0.21,0.427],[-0.203,0.414],[-0.472,-0.262]];

const j_vip = [[-1.0,-0.894],[-0.891,-0.84],[-0.898,-0.892],[-0.878,-0.904],[-0.86,-0.892],[-0.841,-0.892],[-0.833,-0.863],[-0.833,-0.787],[-0.816,-0.789],[-0.80,-0.783],[-0.786,-0.81],[-0.776,-0.838],[-0.769,-0.821],[-0.758,-0.932],[-0.703,-0.843],[-0.687,-0.82],[-0.673,-0.829],[-0.649,-0.848],[-0.64,-0.818],[-0.608,-0.821],[-0.605,-0.858],[-0.576,-0.821],[-0.547,-0.867],[-0.544,-0.87],[-0.533,-0.921],[-0.527,-0.869],[-0.517,-0.858],[-0.503,-0.879],[-0.497,-0.904],[-0.49,-0.843],[-0.467,-0.913],[-0.459,-0.863],[-0.449,-0.957],[-0.44,-0.876],[-0.435,-0.917],[-0.429,-0.825],[-0.415,-0.797],[-0.404,-0.928],[-0.399,-0.911],[-0.39,-0.94],[-0.381,-0.802],[-0.361,-0.955],[-0.358,-0.81],[-0.344,-0.875],[-0.333,-0.835],[-0.322,-0.902],[-0.306,-0.928],[-0.303,-1.09],[-0.30,-0.94],[-0.293,-0.947],[-0.29,-0.904],[-0.286,-0.814],[-0.286,-0.792],[-0.282,-0.921],[-0.279,-0.835],[-0.265,-0.95],[-0.261,-0.81],[-0.254,-0.846],[-0.249,-0.856],[-0.245,-0.833],[-0.238,-0.898],[-0.238,-0.928],[-0.245,-1.008],[-0.235,-1.031],[-0.229,-0.846],[-0.224,-0.955],[-0.218,-0.966],[-0.204,-0.915],[-0.194,-0.818],[-0.177,-0.827],[-0.181,-0.978],[-0.173,-0.886],[-0.166,-0.997],[-0.159,-0.953],[-0.153,-0.843],[-0.149,-0.827],[-0.146,-1.0],[-0.143,-1.066],[-0.143,-0.966],[-0.14,-0.886],[-0.136,-0.825],[-0.132,-0.932],[-0.129,-0.947],[-0.122,-0.969],[-0.111,-0.82],[-0.105,-0.917],[-0.102,-1.016],[-0.095,-0.866],[-0.091,-0.963],[-0.078,-0.959],[-0.072,-0.95],[-0.065,-0.942],[-0.061,-0.846],[-0.057,-0.829],[-0.054,-0.97],[-0.053,-0.928],[-0.048,-0.86],[-0.041,-0.864],[-0.037,-0.869],[-0.031,-0.875],[-0.027,-0.886],[-0.03,-0.904],[-0.023,-0.835],[-0.018,-0.835],[-0.014,-0.86],[-0.01,-0.869],[-0.007,-0.879],[-0.004,-0.866],[-0.003,-0.978],[-0.027,-1.045]];
const j_r3m = [[-1.0,-1.011],[-0.99,-1.011],[-0.98,-1.033],[-0.943,-1.031],[-0.932,-1.024],[-0.914,-1.011],[-0.912,-1.031],[-0.867,-1.008],[-0.844,-1.011],[-0.83,-1.008],[-0.803,-1.008],[-0.762,-1.011],[-0.683,-1.012],[-0.637,-1.012],[-0.629,-1.024],[-0.622,-1.034],[-0.619,-1.062],[-0.596,-1.064],[-0.592,-1.018],[-0.578,-1.062],[-0.554,-1.02],[-0.562,-1.047],[-0.514,-1.071],[-0.487,-1.02],[-0.487,-1.068],[-0.469,-1.068],[-0.46,-1.026],[-0.442,-1.027],[-0.425,-1.029],[-0.435,-1.102],[-0.415,-1.035],[-0.401,-1.056],[-0.388,-1.043],[-0.381,-1.053],[-0.361,-1.053],[-0.327,-1.049],[-0.344,-1.049],[-0.875,-1.09],[-0.731,-0.876],[-0.69,-0.882],[-0.653,-0.882],[-0.90,-0.858],[-0.854,-0.82],[-0.778,-0.838],[-0.493,-0.894],[-0.415,-0.892],[-0.333,-0.896],[-0.333,-0.92],[-0.283,-0.983],[-0.306,-1.108],[-0.229,-1.106],[-0.235,-1.111],[-0.229,-1.102],[-0.224,-1.003],[-0.064,-0.921],[-0.014,-0.953],[-0.023,-0.995],[-0.004,-0.972],[-0.004,-1.167],
[-0.833,-0.787],[-0.81,-0.783],[-0.789,-0.782],[-0.766,-0.779],[-0.758,-0.785],[-0.741,-0.782],[-0.728,-0.783],[-0.717,-0.779],[-0.714,-0.789],[-0.707,-0.783],[-0.701,-0.798],[-0.698,-0.789],[-0.69,-0.802],[-0.687,-0.791],[-0.68,-0.797],[-0.676,-0.772],[-0.671,-0.802],[-0.667,-0.81],[-0.663,-0.798],[-0.66,-0.791],[-0.656,-0.774],[-0.649,-0.806],[-0.644,-0.807],[-0.639,-0.798],[-0.633,-0.802],[-0.626,-0.808],[-0.622,-0.795],[-0.616,-0.798],[-0.608,-0.802],[-0.599,-0.797],[-0.592,-0.795],[-0.582,-0.76],[-0.571,-0.798],[-0.565,-0.818],[-0.558,-0.791],[-0.554,-0.825],[-0.544,-0.791],[-0.537,-0.798],[-0.531,-0.81],[-0.524,-0.764],[-0.517,-0.749],[-0.513,-0.785],[-0.507,-0.772],[-0.503,-0.812],[-0.499,-0.798],[-0.497,-0.815],[-0.493,-0.81],[-0.486,-0.81],[-0.48,-0.766],[-0.476,-0.764],[-0.469,-0.813],[-0.456,-0.81],[-0.442,-0.805],[-0.435,-0.787],[-0.425,-0.802],[-0.417,-0.813],[-0.404,-0.82]];

const k_vip = [[-1.0,-0.979],[-0.974,-0.984],[-0.956,-0.977],[-0.886,-1.117],[-0.834,-1.10],[-0.868,-0.85],[-0.865,-0.864],[-0.838,-0.805],[-0.809,-0.726],[-0.809,-0.791],[-0.804,-0.982],[-0.796,-0.864],[-0.789,-0.982],[-0.786,-0.89],[-0.779,-0.774],[-0.777,-1.106],[-0.775,-0.838],[-0.772,-0.993],[-0.766,-0.673],[-0.763,-0.778],[-0.755,-0.764],[-0.752,-0.84],[-0.748,-0.966],[-0.745,-0.934],[-0.741,-0.845],[-0.738,-0.864],[-0.736,-0.836],[-0.732,-0.871],[-0.725,-0.85],[-0.721,-0.896],[-0.714,-0.769],[-0.711,-0.791],[-0.704,-0.826],[-0.698,-0.917],[-0.695,-0.896],[-0.691,-0.871],[-0.684,-0.902],[-0.677,-0.955],[-0.673,-0.797],[-0.663,-0.791],[-0.657,-0.797],[-0.65,-1.096],[-0.643,-0.941],[-0.639,-0.652],[-0.636,-0.898],[-0.632,-1.026],[-0.629,-0.941],[-0.619,-0.917],[-0.613,-0.912],[-0.602,-0.924],[-0.595,-0.969],[-0.591,-0.89],[-0.589,-0.931],[-0.584,-0.91],[-0.582,-0.915],[-0.575,-0.689],[-0.572,-0.836],[-0.571,-0.867],[-0.561,-0.934],[-0.548,-1.031],[-0.545,-0.814],[-0.541,-0.874],[-0.496,-0.982],[-0.493,-0.936],[-0.486,-1.0],[-0.482,-0.815],[-0.482,-0.869],[-0.477,-0.886],[-0.469,-1.003],[-0.459,-0.921],[-0.455,-0.869],[-0.448,-1.065],[-0.439,-0.874],[-0.432,-0.982],[-0.418,-0.936],[-0.411,-0.964],[-0.411,-1.022],[-0.409,-1.055],[-0.405,-0.869],[-0.401,-0.902],[-0.398,-0.95],[-0.391,-1.087],[-0.384,-0.931],[-0.377,-1.05],[-0.373,-1.01],[-0.371,-0.795],[-0.366,-0.735],[-0.364,-0.896],[-0.357,-0.812],[-0.354,-0.896],[-0.346,-1.084],[-0.337,-1.036],[-0.33,-0.869],[-0.323,-1.0],[-0.313,-0.874],[-0.305,-0.902],[-0.296,-0.963],[-0.289,-0.845],[-0.282,-1.052],[-0.268,-0.793],[-0.262,-0.778],[-0.259,-1.055],[-0.255,-0.807],[-0.248,-0.886],[-0.241,-0.812],[-0.237,-0.807],[-0.234,-1.055],[-0.228,-0.819],[-0.228,-0.855],[-0.221,-0.858],[-0.207,-1.065],[-0.2,-0.969],[-0.189,-0.807],[-0.187,-1.029],[-0.183,-1.046],[-0.177,-1.068],[-0.173,-1.01],[-0.169,-1.041],[-0.163,-0.834],[-0.159,-1.055],[-0.153,-1.003],[-0.146,-0.993],[-0.142,-1.036],[-0.135,-1.01],[-0.132,-1.007],[-0.125,-1.036],[-0.119,-1.036],[-0.112,-0.991],[-0.109,-1.041],[-0.105,-1.055],[-0.098,-0.814],[-0.091,-1.017],[-0.087,-1.007],[-0.084,-1.048],[-0.081,-0.864],[-0.078,-0.993],[-0.074,-1.017],[-0.057,-1.055],[-0.033,-1.055],[-0.019,-0.819],[-0.014,-1.055],[-0.01,-1.055],[0.0,-0.824],[-0.01,-0.816]];
const k_r3m = [[-1.0,-1.117],[-0.973,-0.826],[-0.967,-0.833],[-0.80,-0.941],[-0.804,-0.834],[-0.80,-0.819],[-0.766,-0.953],[-0.759,-0.857],[-0.759,-1.017],[-0.752,-1.124],[-0.745,-0.969],[-0.728,-1.098],[-0.722,-0.876],[-0.714,-0.838],[-0.711,-0.821],[-0.704,-0.793],[-0.70,-0.917],[-0.695,-0.991],[-0.687,-0.812],[-0.677,-0.816],[-0.67,-1.079],[-0.663,-1.031],[-0.657,-0.795],[-0.654,-0.812],[-0.65,-0.988],[-0.643,-1.069],[-0.632,-1.05],[-0.629,-1.055],[-0.625,-1.024],[-0.623,-0.921],[-0.616,-0.95],[-0.612,-1.136],[-0.606,-0.797],[-0.602,-0.926],[-0.595,-1.093],[-0.582,-0.845],[-0.578,-0.85],[-0.572,-1.093],[-0.561,-1.036],[-0.554,-0.953],[-0.548,-1.058],[-0.544,-0.819],[-0.507,-0.823],[-0.50,-0.845],[-0.497,-1.079],[-0.493,-1.096],[-0.486,-0.833],[-0.482,-0.838],[-0.477,-0.858],[-0.466,-1.017],[-0.459,-0.902],[-0.452,-1.058],[-0.45,-1.065],[-0.445,-1.026],[-0.441,-1.012],[-0.436,-1.136],[-0.432,-0.979],[-0.425,-1.01],[-0.418,-0.877],
[-0.425,-1.065],[-0.418,-1.074],[-0.411,-1.108],[-0.405,-1.058],[-0.398,-1.05],[-0.391,-1.065],[-0.384,-1.007],[-0.377,-1.065],[-0.373,-1.108],[-0.371,-1.007],[-0.364,-1.031],[-0.357,-1.108],[-0.35,-1.058],[-0.343,-1.031],[-0.337,-1.093],[-0.33,-1.031],[-0.323,-1.136],[-0.316,-1.055],[-0.309,-1.031],[-0.302,-1.117],[-0.296,-1.05],[-0.289,-1.096],[-0.282,-1.065],[-0.275,-1.096],[-0.268,-1.05],[-0.262,-1.127],[-0.255,-1.093],[-0.248,-1.05],[-0.241,-1.155],[-0.234,-1.146],[-0.228,-1.132],[-0.221,-1.136],[-0.214,-1.098],[-0.207,-1.084],[-0.2,-1.084],[-0.193,-1.127],[-0.187,-1.084],[-0.18,-1.081],[-0.173,-1.155],[-0.166,-1.079],[-0.159,-1.132],[-0.153,-1.098],[-0.146,-1.155],[-0.139,-1.153],[-0.132,-1.122],[-0.125,-1.079],[-0.119,-1.098],[-0.112,-1.103],[-0.105,-1.089],[-0.098,-1.079],[-0.091,-1.087],[-0.084,-1.106],[-0.078,-1.122],[-0.071,-1.141],[-0.064,-1.098],[-0.057,-1.112],[-0.05,-1.127],[-0.044,-1.132],[-0.037,-1.141],[-0.03,-1.074],[-0.023,-1.146],[-0.016,-1.155],[-0.01,-1.136],[0.0,-1.134],[-0.084,-1.03],[-0.06,-1.06]];

const l_vip = [[-1.0,-0.826],[-0.978,-0.803],[-0.969,-0.803],[-0.942,-0.803],[-0.935,-0.817],[-0.914,-0.794],[-0.894,-0.789],[-0.89,-0.757],[-0.86,-0.724],[-0.849,-0.757],[-0.839,-0.747],[-0.83,-0.733],[-0.803,-0.664],[-0.799,-0.65],[-0.792,-0.617],[-0.785,-0.664],[-0.781,-0.678],[-0.724,-0.585],[-0.72,-0.538],[-0.71,-0.524],[-0.701,-0.139],[-0.643,-0.176],[-0.618,-0.478],[-0.615,-0.422],[-0.613,-0.399],[-0.605,-0.292],[-0.571,-0.352],[-0.566,-0.324],[-0.516,-0.236],[-0.507,-0.361],
[-0.734,0.545],[-0.707,0.466],[-0.609,0.545],[-0.598,0.675],[-0.579,0.452],[-0.527,0.568],[-0.495,0.614],[-0.48,0.60],[-0.435,0.763],[-0.409,0.651],[-0.398,0.763],[-0.367,0.698],[-0.367,0.651],[-0.36,0.81],[-0.343,0.837],[-0.333,0.856],[-0.323,0.87],[-0.313,0.717],[-0.303,0.763],[-0.296,0.777],[-0.285,0.879],[-0.266,0.786],[-0.249,0.847],[-0.235,0.879],[-0.217,0.837],[-0.215,0.87],[-0.201,0.879],[-0.188,0.884],[-0.174,0.87],[-0.167,0.879],[-0.16,0.893],[-0.154,0.884],[-0.14,0.893],[-0.126,0.884],[-0.12,0.893],[-0.113,0.884],[-0.106,0.893],[-0.099,0.884],[-0.092,0.884],[-0.086,0.879],[-0.079,0.884],[-0.072,0.879],[-0.065,0.884],[-0.058,0.87],[-0.052,0.879],[-0.045,0.856],[-0.038,0.87],[-0.031,0.856],[-0.024,0.879],[-0.018,0.884],[-0.011,0.884],[-0.004,0.879],[0.0,0.884]];
const l_r3m = [[-1.0,-1.523],[-0.996,-1.235],[-0.944,-1.23],[-0.90,-1.533],[-0.781,-1.56],[-0.74,-1.546],[-0.724,-1.523],[-0.717,-1.593],[-0.71,-1.56],[-0.703,-1.546],[-0.683,-1.523],[-0.66,-1.175],[-0.645,-1.36],[-0.636,-1.021],[-0.629,-1.44],[-0.622,-1.175],[-0.622,-1.523],[-0.602,-0.928],[-0.591,-1.128],[-0.582,-1.189],[-0.577,-1.579],[-0.577,-1.64],[-0.575,-1.486],[-0.568,-1.454],[-0.568,-1.175],[-0.561,-1.105],[-0.559,-1.435],[-0.552,-1.14],[-0.546,-1.049],[-0.541,-1.06],[-0.541,-1.175],[-0.541,-1.337],[-0.538,-1.24],[-0.549,-1.672],[-0.538,-1.546],[-0.507,-1.509],[-0.48,-1.151],[-0.473,-1.29],[-0.466,-0.989],[-0.459,-1.407],[-0.459,-1.035],[-0.455,-1.672],[-0.452,-1.454],[-0.445,-1.34],[-0.443,-1.128],[-0.439,-0.928],[-0.436,-1.43],[-0.432,-1.003],[-0.428,-1.347],[-0.424,-1.445],[-0.421,-1.021],[-0.414,-1.221],[-0.401,-1.43],[-0.395,-1.36],[-0.378,-1.43],[-0.371,-1.445],[-0.355,-1.142],[-0.344,-1.43],[-0.308,-1.035],[-0.296,-1.142],[-0.265,-1.128],[-0.255,-1.142],[-0.246,-1.128],[-0.228,-1.175],[-0.211,-1.105],[-0.183,-1.096],[-0.156,-1.082],[-0.147,-1.082],[-0.137,-1.096],[-0.133,-1.105],[-0.126,-1.221],[-0.16,-1.314],[-0.147,-1.314],[-0.14,-1.314],[-0.069,-1.291],[-0.058,-1.3],[-0.052,-1.291],[-0.045,-1.291],[-0.038,-1.282],[-0.031,-1.277],[-0.024,-1.268],[-0.018,-1.277],[-0.011,-1.268],[0.0,-1.254],[-0.065,-1.31],
[-0.541,-0.812],[-0.534,-0.812],[-0.527,-0.803],[-0.52,-0.812],[-0.514,-0.817],[-0.507,-0.812],[-0.5,-0.803],[-0.493,-0.812],[-0.486,-0.812],[-0.48,-0.803],[-0.473,-0.812],[-0.466,-0.817],[-0.459,-0.812],[-0.452,-0.803],[-0.446,-0.812],[-0.439,-0.812],[-0.432,-0.803],[-0.425,-0.812],[-0.418,-0.817],[-0.412,-0.812],[-0.405,-0.803],[-0.398,-0.812],[-0.391,-0.812],[-0.384,-0.803],[-0.378,-0.812],[-0.371,-0.812],[-0.364,-0.817],[-0.357,-0.812],[-0.35,-0.803],[-0.344,-0.812],[-0.33,-0.812],[-0.316,-0.803],[-0.303,-0.812],[-0.289,-0.817],[-0.276,-0.812],[-0.262,-0.803],[-0.249,-0.812],[-0.235,-0.812]];

const vipSets = [a_vip,b_vip,c_vip,d_vip,e_vip,f_vip,g_vip,h_vip,i_vip,j_vip,k_vip,l_vip];
const r3mSets = [a_r3m,b_r3m,c_r3m,d_r3m,e_r3m,f_r3m,g_r3m,h_r3m,i_r3m,j_r3m,k_r3m,l_r3m];

// ---------------- LAYOUT (positions / styles) ----------------
const layout = [
 {g:[55,19,265.7,200],   y:[-0.96,1.068], dec:2, t:[188,11],   lg:[59,24],    cap:[165,271], yg:32.8},
 {g:[424,19,266.7,200],  y:[-1.06,1.064], dec:2, t:[557,11],   lg:[428,22.7], cap:[536,271], yg:31.8},
 {g:[790,16.7,267,201.6],y:[-1.85,1.10],  dec:1, t:[923,7.3],  lg:[794,20.7], cap:[907,271], yg:27.2},
 {g:[50.7,329,268.6,201.7],y:[-2.484,-1.591],dec:1,t:[185,321.7],lg:[54,500.7],cap:[161,586], yg:27.9},
 {g:[420,329,269.3,201.7],y:[-2.398,-1.609],dec:1,t:[555,321], lg:[602,333.3],cap:[533,586], yg:27.8},
 {g:[790,330,267,200.7], y:[-2.288,-1.551],dec:1,t:[923,321],  lg:[793,500.7],cap:[903,586], yg:27.8},
 {g:[55,648.3,265.7,198.4],y:[-1.134,0.954],dec:2,t:[188,640], lg:[59,818.3], cap:[166,901], yg:32.2},
 {g:[418.3,644,272.4,202.7],y:[-12.34,1.556],dec:0,t:[554,635.7],lg:[422.7,819],cap:[535,901], yg:26.1},
 {g:[794,648.3,263.3,198.4],y:[-0.896,1.039],dec:2,t:[925,640], lg:[797.3,651.7],cap:[902,901], yg:31.2},
 {g:[50.7,960,269.3,202.7],y:[-1.190,-0.726],dec:1,t:[185,951.7],lg:[233.3,965.7],cap:[161,1216], yg:26.9},
 {g:[418.3,960,267.7,201.7],y:[-1.184,-0.606],dec:1,t:[552,951.7],lg:[599,965.7],cap:[532,1216], yg:29.5},
 {g:[783.3,959.3,270,202.4],y:[-1.80,1.02],dec:1,t:[918,950.7],lg:[788.3,961.7],cap:[898,1216], yg:27.8}
];
const FONT = "DejaVu Sans";
const BLUE = "#1f77b4", RED = "#d62728";

function fmt(v, d){
  if (Math.abs(v) < 1e-9) v = 0;
  const s = v.toFixed(d);
  return s.replace('-', '\u2212');
}

const grids=[], xAxes=[], yAxes=[], series=[], legends=[], graphics=[];
layout.forEach((L,i)=>{
  grids.push({left:L.g[0], top:L.g[1], width:L.g[2], height:L.g[3], show:true, borderColor:'#333', borderWidth:0.8, containLabel:false, outerBoundsMode:'none'});
  xAxes.push({type:'value', gridIndex:i, position:'bottom', min:-1.05, max:0.05, splitLine:{show:false}, axisLine:{show:false, onZero:false},
    axisTick:{show:true, length:3.5, inside:false, lineStyle:{color:'#333', width:0.8}, customValues:xTicks},
    axisLabel:{show:true, customValues:xTicks, formatter:v=>fmt(v,1), fontSize:7, fontFamily:FONT, color:'#222', margin:5},
    name:xAxisTitle, nameLocation:'middle', nameGap:13, nameMoveOverlap:false,
    nameTextStyle:{fontSize:10.7, fontFamily:FONT, color:'#111', verticalAlign:'top'}});
  yAxes.push({type:'value', gridIndex:i, position:'left', min:L.y[0], max:L.y[1], splitLine:{show:false}, axisLine:{show:false, onZero:false},
    axisTick:{show:true, length:3.5, inside:false, lineStyle:{color:'#333', width:0.8}, customValues:yTicks[i]},
    axisLabel:{show:true, customValues:yTicks[i], formatter:v=>fmt(v,L.dec), fontSize:7, fontFamily:FONT, color:'#222', margin:5},
    name:yAxisTitle, nameLocation:'middle', nameGap:L.yg, nameRotate:90, nameMoveOverlap:false,
    nameTextStyle:{fontSize:10.7, fontFamily:FONT, color:'#111'}});
  series.push({type:'scatter', name:vipLabels[i], xAxisIndex:i, yAxisIndex:i, data:vipSets[i], symbolSize:5.5,
    itemStyle:{color:BLUE, opacity:0.78}, silent:true, z:2});
  series.push({type:'scatter', name:r3mLabels[i], xAxisIndex:i, yAxisIndex:i, data:r3mSets[i], symbolSize:5.5,
    itemStyle:{color:RED, opacity:0.78}, silent:true, z:3});
  legends.push({orient:'vertical', left:L.lg[0], top:L.lg[1], padding:[2,4,2,1.5], itemGap:4, itemWidth:17, itemHeight:5.5,
    icon:'circle', selectedMode:false, z:10, borderColor:'#cccccc', borderWidth:0.8, borderRadius:2, backgroundColor:'rgba(255,255,255,0.8)',
    textStyle:{fontSize:6.8, fontFamily:FONT, color:'#222', lineHeight:8},
    data:[{name:vipLabels[i], itemStyle:{color:BLUE, opacity:0.78}}, {name:r3mLabels[i], itemStyle:{color:RED, opacity:0.78}}]});
  graphics.push({type:'text', x:L.t[0], y:L.t[1], silent:true,
    style:{text:titles[i], fill:'#111', font:'11px "DejaVu Sans"', textAlign:'center', textVerticalAlign:'middle'}});
  graphics.push({type:'text', x:L.cap[0], y:L.cap[1], silent:true,
    style:{text:'{t|'+captionTags[i]+'}{m|'+captionNames[i]+'}', fill:'#000', textAlign:'center', textVerticalAlign:'middle',
      rich:{t:{fontFamily:'Liberation Serif', fontSize:24, fill:'#000', padding:[0,11,0,0]}, m:{fontFamily:'Liberation Mono', fontSize:22.5, fill:'#000'}}}});
});

const chart = echarts.init(document.getElementById('c'), null, {renderer:'svg', width:1058, height:1232});
chart.setOption({animation:false, backgroundColor:'#fff', grid:grids, xAxis:xAxes, yAxis:yAxes, series:series, legend:legends, graphic:graphics, tooltip:{show:false}});
</script></body></html>
